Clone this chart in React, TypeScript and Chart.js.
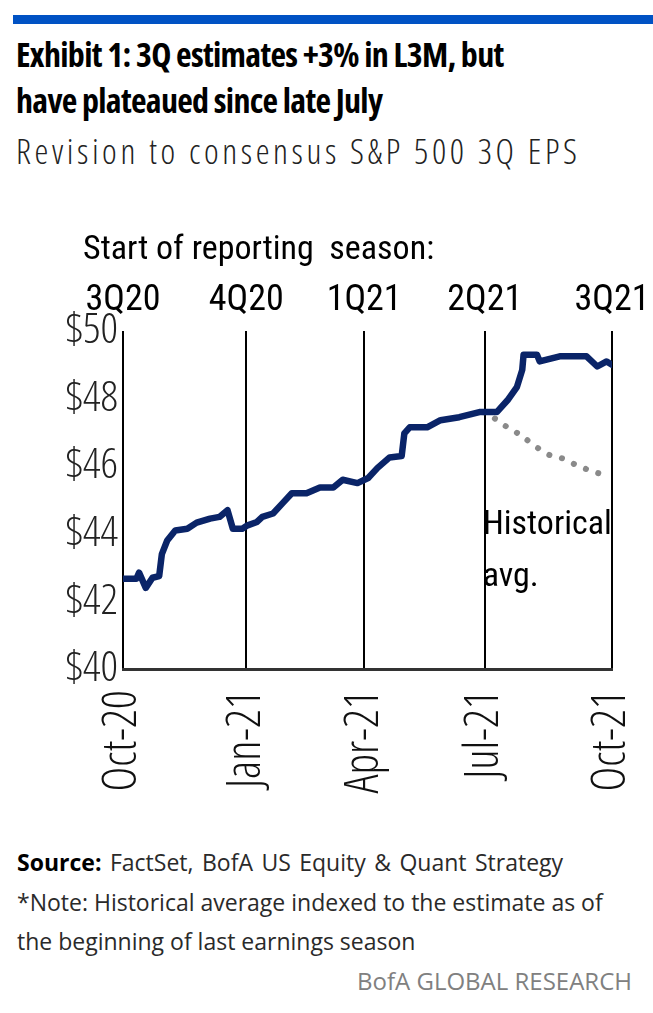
import React, { useEffect, useRef } from "react";
import { Chart, registerables } from "chart.js";

Chart.register(...registerables);

// Days since 1-Oct-2020
const EPS_DAYS = [0, 10, 12, 17, 22, 27, 29, 33, 39, 48, 55, 65, 72, 78, 82, 89, 93, 100, 104, 112, 119, 126, 137, 147, 157, 164, 175, 183, 190, 199, 208, 210, 214, 227, 237, 251, 266, 279, 287, 294, 298, 299, 309, 311, 326, 346, 354, 361, 365];
const EPS_VALUES = [42.67, 42.67, 42.85, 42.4, 42.7, 42.75, 43.4, 43.8, 44.1, 44.15, 44.33, 44.45, 44.5, 44.7, 44.15, 44.15, 44.25, 44.35, 44.5, 44.6, 44.9, 45.2, 45.2, 45.37, 45.37, 45.6, 45.5, 45.65, 45.95, 46.26, 46.3, 46.97, 47.15, 47.15, 47.36, 47.45, 47.6, 47.6, 47.95, 48.34, 48.85, 49.3, 49.3, 49.1, 49.25, 49.25, 48.95, 49.1, 49.0];

const HIST_DAYS = [269, 278, 287, 296, 310, 319, 328, 339, 349, 360];
const HIST_VALUES = [47.6, 47.4, 47.15, 46.94, 46.53, 46.32, 46.23, 46.02, 45.87, 45.73];

const X_TICKS = [0, 92, 180, 270, 365];
const X_LABELS = ["Oct-20", "Jan-21", "Apr-21", "Jul-21", "Oct-21"];
const SEASON_LABELS = ["3Q20", "4Q20", "1Q21", "2Q21", "3Q21"];
const Y_TICKS = [40, 42, 44, 46, 48, 50];

const NARROW = '"Roboto Condensed", "Liberation Sans Narrow", sans-serif';
const OPEN = '"Open Sans", sans-serif';

const annotations = {
  id: "annotations",
  afterDraw(chart: any) {
    const { ctx, scales } = chart;
    ctx.save();
    ctx.fillStyle = "#000";
    ctx.font = `normal 400 34px ${NARROW}`;
    ctx.textAlign = "left";
    ctx.textBaseline = "middle";
    ctx.fillText("Start of reporting  season:", 83, 50);
    const x = scales.x.getPixelForValue(270);
    ctx.fillText("Historical", x - 2, scales.y.getPixelForValue(44.26));
    ctx.fillText("avg.", x - 2, scales.y.getPixelForValue(42.7));
    ctx.restore();
  },
};

function EpsChart() {
  const ref = useRef<HTMLCanvasElement>(null);
  useEffect(() => {
    if (!ref.current) return;
    const chart = new Chart(ref.current, {
      type: "line",
      data: {
        datasets: [
          {
            label: "3Q EPS",
            data: EPS_DAYS.map((d, i) => ({ x: d, y: EPS_VALUES[i] })),
            borderColor: "#0a2468",
            borderWidth: 6.5,
            pointRadius: 0,
            borderJoinStyle: "round",
            borderCapStyle: "round",
            tension: 0,
          },
          {
            label: "Historical avg.",
            data: HIST_DAYS.map((d, i) => ({ x: d, y: HIST_VALUES[i] })),
            borderColor: "#8a8a8a",
            borderWidth: 6,
            borderDash: [0.1, 13],
            borderCapStyle: "round",
            pointRadius: 0,
            tension: 0.3,
          },
        ],
      },
      options: {
        responsive: false,
        animation: false,
        devicePixelRatio: 1,
        layout: { padding: { left: 0, right: 41, top: 0, bottom: 0 } },
        plugins: { legend: { display: false }, tooltip: { enabled: false } },
        scales: {
          x: {
            type: "linear",
            position: "bottom",
            min: 0,
            max: 365,
            afterBuildTicks: (s: any) => {
              s.ticks = X_TICKS.map((v) => ({ value: v }));
            },
            afterFit: (s: any) => {
              s.height = 171;
              s.paddingLeft = 0;
              s.paddingRight = 0;
            },
            ticks: {
              callback: (v: any) => X_LABELS[X_TICKS.indexOf(Number(v))] ?? "",
              minRotation: 90,
              maxRotation: 90,
              padding: 21,
              color: "#111",
              font: { family: OPEN, size: 47, weight: "300 semi-condensed" as any },
              autoSkip: false,
            },
            grid: { color: "#000", lineWidth: 2, drawTicks: false },
            border: { color: "#333", width: 3 },
          },
          x2: {
            type: "linear",
            position: "top",
            min: 0,
            max: 365,
            afterBuildTicks: (s: any) => {
              s.ticks = X_TICKS.map((v) => ({ value: v }));
            },
            afterFit: (s: any) => {
              s.height = 131;
              s.paddingLeft = 0;
              s.paddingRight = 0;
            },
            ticks: {
              callback: (v: any) => SEASON_LABELS[X_TICKS.indexOf(Number(v))] ?? "",
              maxRotation: 0,
              minRotation: 0,
              padding: 8,
              color: "#000",
              font: { family: NARROW, size: 36 },
              autoSkip: false,
            },
            grid: { display: false, drawTicks: false },
            border: { display: false },
          },
          y: {
            min: 40,
            max: 50,
            afterBuildTicks: (s: any) => {
              s.ticks = Y_TICKS.map((v) => ({ value: v }));
            },
            afterFit: (s: any) => {
              s.width = 123;
            },
            ticks: {
              callback: (v: any) => "$" + v,
              padding: 5,
              color: "#222",
              font: { family: OPEN, size: 43, weight: "300 semi-condensed" as any },
            },
            grid: { display: false, drawTicks: false },
            border: { display: false },
          },
        },
      },
      plugins: [annotations],
    });
    return () => chart.destroy();
  }, []);
  return (
    <canvas
      ref={ref}
      width={653}
      height={640}
      style={{ position: "absolute", left: 0, top: 200, width: 653, height: 640 }}
    />
  );
}

export default function App() {
  return (
    <div
      style={{
        position: "absolute",
        left: 0,
        top: 0,
        width: 653,
        height: 1013,
        background: "#fff",
        overflow: "hidden",
        fontFamily: OPEN,
      }}
    >
      <div style={{ position: "absolute", left: 13, top: 15, width: 640, height: 9, background: "#0052c4" }} />
      <div
        style={{
          position: "absolute",
          left: 16,
          top: 31,
          fontWeight: 700,
          fontStretch: "75%",
          fontSize: 34,
          letterSpacing: "-0.7px",
          lineHeight: "46px",
          color: "#000",
          whiteSpace: "nowrap",
        }}
      >
        <div>Exhibit 1: 3Q estimates +3% in L3M, but</div>
        <div>have plateaued since late July</div>
      </div>
      <div
        style={{
          position: "absolute",
          left: 16,
          top: 131,
          fontSize: 35,
          fontWeight: 300,
          fontStretch: "87.5%",
          letterSpacing: "3.6px",
          lineHeight: "40px",
          color: "#222",
          whiteSpace: "nowrap",
        }}
      >
        Revision to consensus S&amp;P 500 3Q EPS
      </div>
      <EpsChart />
      <div
        style={{
          position: "absolute",
          left: 17,
          top: 843,
          fontSize: 23,
          lineHeight: "39.5px",
          color: "#2a2a2a",
          whiteSpace: "nowrap",
        }}
      >
        <div style={{ wordSpacing: "2.5px" }}>
          <b style={{ color: "#000" }}>Source:</b> FactSet, BofA US Equity &amp; Quant Strategy
        </div>
        <div>*Note: Historical average indexed to the estimate as of</div>
        <div>the beginning of last earnings season</div>
      </div>
      <div
        style={{
          position: "absolute",
          right: 21,
          top: 966,
          fontSize: 24,
          lineHeight: "30px",
          color: "#808080",
          whiteSpace: "nowrap",
        }}
      >
        BofA GLOBAL RESEARCH
      </div>
    </div>
  );
}
